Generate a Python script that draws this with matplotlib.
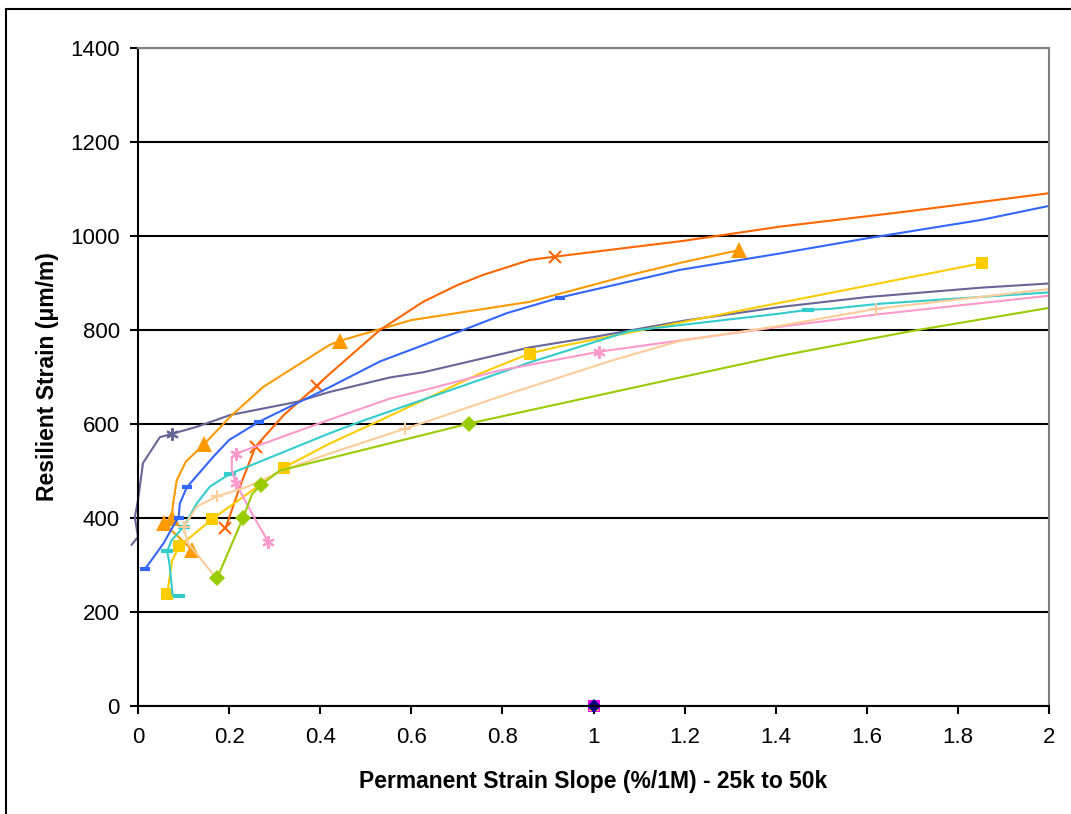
import matplotlib
matplotlib.use("Agg")
import matplotlib.pyplot as plt
from matplotlib.patches import Rectangle

plt.rcParams["font.family"] = ["Liberation Sans", "DejaVu Sans"]

# series: x = slope (%/1M), y = resilient strain
slate_x = [-0.014, 0.0, -0.007, 0.0, 0.011, 0.048, 0.074, 0.129, 0.202, 0.348, 0.42, 0.553, 0.626, 0.86, 1.0, 1.2, 1.41, 1.6, 1.85, 2.0]
slate_y = [343, 360, 402, 438, 517, 572, 579, 594, 619, 647, 668, 699, 710, 763, 785, 820, 849, 870, 890, 899]
slate_mk = [6]

orange_x = [0.119, 0.056, 0.074, 0.077, 0.085, 0.105, 0.145, 0.202, 0.275, 0.42, 0.443, 0.6, 0.86, 1.08, 1.2, 1.32]
orange_y = [332, 390, 399, 430, 480, 520, 557, 615, 679, 768, 777, 821, 860, 917, 945, 970]
orange_mk = [0, 1, 2, 6, 10, 15]

red_x = [0.192, 0.225, 0.258, 0.32, 0.392, 0.42, 0.531, 0.626, 0.7, 0.757, 0.86, 0.915, 1.2, 1.41, 1.67, 2.0]
red_y = [378, 470, 552, 619, 681, 706, 800, 860, 895, 917, 949, 956, 990, 1020, 1050, 1091]
red_mk = [0, 2, 4, 11]

blue_x = [0.015, 0.056, 0.081, 0.089, 0.092, 0.107, 0.165, 0.2, 0.266, 0.42, 0.531, 0.714, 0.81, 0.926, 1.19, 1.41, 1.6, 1.85, 2.0]
blue_y = [291, 346, 389, 401, 431, 465, 530, 566, 605, 678, 733, 800, 836, 869, 928, 963, 995, 1034, 1064]
blue_mk = [0, 3, 5, 8, 13]

gold_x = [0.064, 0.075, 0.091, 0.162, 0.32, 0.42, 0.53, 0.75, 0.86, 0.93, 1.41, 1.852]
gold_y = [238, 310, 340, 397, 507, 558, 607, 707, 750, 766, 858, 942]
gold_mk = [0, 2, 3, 4, 8, 11]

cyan_x = [0.089, 0.076, 0.069, 0.064, 0.074, 0.1, 0.129, 0.158, 0.202, 0.42, 0.494, 0.86, 1.08, 1.41, 1.47, 1.52, 1.63, 2.0]
cyan_y = [234, 236, 303, 329, 353, 381, 431, 467, 494, 580, 607, 731, 798, 835, 843, 845, 856, 880]
cyan_mk = [0, 3, 5, 8, 14]

pink_x = [0.286, 0.25, 0.215, 0.206, 0.206, 0.215, 0.275, 0.42, 0.553, 0.64, 0.79, 1.013, 1.41, 1.63, 2.0]
pink_y = [349, 410, 474, 502, 527, 537, 558, 609, 654, 675, 713, 754, 807, 834, 873]
pink_mk = [0, 2, 5, 11]

peach_x = [0.173, 0.11, 0.1, 0.129, 0.173, 0.239, 0.319, 0.42, 0.586, 0.64, 0.79, 0.97, 1.04, 1.19, 1.41, 1.62, 2.0]
peach_y = [271, 346, 380, 424, 446, 466, 502, 537, 590, 607, 657, 713, 735, 777, 809, 845, 887]
peach_mk = [0, 2, 4, 8, 15]

green_x = [0.174, 0.231, 0.25, 0.27, 0.312, 0.42, 0.727, 1.19, 1.41, 1.70, 2.0]
green_y = [273, 401, 450, 471, 501, 527, 601, 699, 745, 798, 847]
green_mk = [0, 1, 3, 6]

# lone points sitting on the x axis
lone_x = [1.0, 1.0, 1.0]
lone_y = [0, 0, 0]

fig = plt.figure(figsize=(10.71, 8.14), dpi=100)
ax = fig.add_axes([138 / 1071, 1 - 706 / 814, (1049 - 138) / 1071, (706 - 48) / 814])

ax.set_xlim(0, 2)
ax.set_ylim(0, 1400)
ax.set_yticks(range(0, 1401, 200))
ax.set_xticks([i * 0.2 for i in range(11)])
ax.set_xticklabels(["0", "0.2", "0.4", "0.6", "0.8", "1", "1.2", "1.4", "1.6", "1.8", "2"])
ax.yaxis.grid(True, color="black", linewidth=1.5)
ax.set_axisbelow(True)

lw = 1.5
ax.plot(slate_x, slate_y, color="#666699", lw=lw, marker=(6, 2, 0), markevery=slate_mk,
        ms=9, mew=1.5, clip_on=False)
ax.plot(orange_x, orange_y, color="#FF9900", lw=lw, marker="^", markevery=orange_mk, ms=11, mew=0)
ax.plot(red_x, red_y, color="#FF6600", lw=lw, marker="x", markevery=red_mk, ms=8, mew=1.5)
ax.plot(blue_x, blue_y, color="#3366FF", lw=lw, marker="_", markevery=blue_mk, ms=7, mew=3)
ax.plot(gold_x, gold_y, color="#FFCC00", lw=lw, marker="s", markevery=gold_mk, ms=9, mew=0)
ax.plot(cyan_x, cyan_y, color="#33CCCC", lw=lw, marker="_", markevery=cyan_mk, ms=9, mew=3)
ax.plot(pink_x, pink_y, color="#FF99CC", lw=lw, marker=(6, 2, 0), markevery=pink_mk, ms=9, mew=1.5)
ax.plot(peach_x, peach_y, color="#FFCC99", lw=lw, marker="+", markevery=peach_mk, ms=9, mew=1.5)
ax.plot(green_x, green_y, color="#99CC00", lw=lw, marker="D", markevery=green_mk, ms=8, mew=0)

ax.plot(lone_x[0], lone_y[0], "s", color="#FF00FF", ms=8, mew=0, clip_on=False)
ax.plot(lone_x[1], lone_y[1], "^", color="#FFFF00", ms=7, mew=0, clip_on=False)
ax.plot(lone_x[2], lone_y[2], "D", color="#000080", ms=7, mew=0, clip_on=False)

for side in ["top", "right"]:
    ax.spines[side].set_color("#808080")
    ax.spines[side].set_linewidth(1.5)
for side in ["left", "bottom"]:
    ax.spines[side].set_color("black")
    ax.spines[side].set_linewidth(1.5)

ax.tick_params(direction="out", length=6, width=1.5, labelsize=16, pad=9)
ax.tick_params(axis="y", pad=7)
ax.set_xlabel("Permanent Strain Slope (%/1M) - 25k to 50k", fontsize=16.5, fontweight="bold", labelpad=16)
ax.set_ylabel("Resilient Strain (\u03bcm/m)", fontsize=16.5, fontweight="bold", labelpad=8)

fig.patches.append(Rectangle((6 / 1071, -0.1), 1.2, 1 - 9 / 814 + 0.1, transform=fig.transFigure,
                             fill=False, edgecolor="black", linewidth=1.5, clip_on=False))

fig.savefig("out.png", dpi=100)
